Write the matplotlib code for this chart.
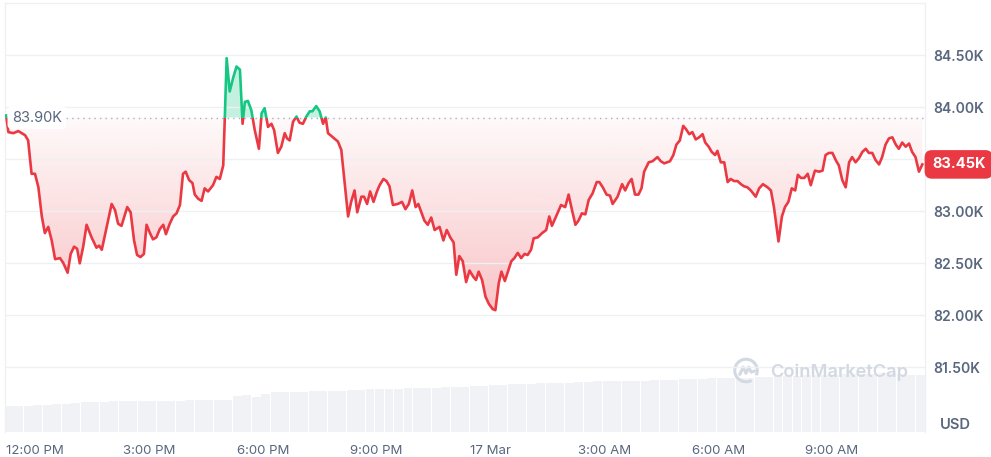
import numpy as np
import matplotlib
matplotlib.use("Agg")
import matplotlib.pyplot as plt
from matplotlib.path import Path
from matplotlib.patches import Rectangle, Arc
from matplotlib.transforms import blended_transform_factory

# hours relative to 12:00 PM (16 Mar) and BTC price in thousands USD
hours = [
    -0.76, -0.70, -0.57, -0.44, -0.35, -0.26, -0.18, -0.09, 0.00, 0.09,
    0.18, 0.26, 0.35, 0.44, 0.53, 0.66, 0.75, 0.86, 0.94, 1.03,
    1.11, 1.18, 1.27, 1.36, 1.49, 1.62, 1.69, 1.76, 1.89, 2.02,
    2.11, 2.19, 2.28, 2.43, 2.52, 2.61, 2.69, 2.78, 2.87, 2.94,
    3.03, 3.11, 3.20, 3.29, 3.38, 3.45, 3.55, 3.64, 3.73, 3.82,
    3.90, 3.97, 4.06, 4.15, 4.21, 4.30, 4.39, 4.47, 4.56, 4.69,
    4.78, 4.87, 4.96, 5.00, 5.05, 5.13, 5.22, 5.31, 5.40, 5.47,
    5.53, 5.61, 5.70, 5.79, 5.90, 5.97, 6.05, 6.14, 6.23, 6.30,
    6.40, 6.49, 6.58, 6.64, 6.71, 6.80, 6.89, 6.97, 7.06, 7.15,
    7.24, 7.31, 7.41, 7.50, 7.59, 7.66, 7.72, 7.85, 7.98, 8.07,
    8.16, 8.25, 8.33, 8.42, 8.49, 8.60, 8.67, 8.75, 8.83, 8.92,
    9.01, 9.08, 9.18, 9.26, 9.34, 9.43, 9.56, 9.67, 9.76, 9.85,
    9.94, 10.03, 10.10, 10.18, 10.26, 10.35, 10.44, 10.53, 10.66, 10.76,
    10.85, 10.94, 11.03, 11.10, 11.18, 11.27, 11.36, 11.45, 11.55, 11.62,
    11.69, 11.78, 11.87, 11.96, 12.06, 12.13, 12.22, 12.29, 12.38, 12.47,
    12.55, 12.63, 12.72, 12.81, 12.90, 12.98, 13.07, 13.14, 13.25, 13.36,
    13.47, 13.55, 13.62, 13.73, 13.86, 13.97, 14.06, 14.15, 14.24, 14.32,
    14.41, 14.50, 14.59, 14.69, 14.80, 14.87, 14.96, 15.06, 15.15, 15.22,
    15.35, 15.47, 15.55, 15.64, 15.72, 15.81, 15.90, 15.98, 16.05, 16.17,
    16.27, 16.40, 16.49, 16.58, 16.73, 16.82, 16.90, 16.99, 17.08, 17.15,
    17.24, 17.32, 17.41, 17.50, 17.59, 17.66, 17.75, 17.83, 17.92, 17.98,
    18.07, 18.16, 18.25, 18.33, 18.42, 18.51, 18.60, 18.68, 18.77, 18.86,
    18.99, 19.08, 19.18, 19.30, 19.39, 19.47, 19.59, 19.68, 19.76, 19.85,
    19.94, 20.03, 20.10, 20.18, 20.27, 20.36, 20.44, 20.55, 20.66, 20.75,
    20.83, 20.92, 21.01, 21.10, 21.18, 21.27, 21.36, 21.45, 21.53, 21.62,
    21.71, 21.80, 21.89, 21.97, 22.06, 22.15, 22.24, 22.32, 22.41, 22.50,
    22.59, 22.68, 22.76, 22.85, 22.94, 23.03, 23.11, 23.20, 23.29, 23.38,
]
price_k = [
    83.92, 83.76, 83.75, 83.77, 83.75, 83.73, 83.68, 83.36, 83.36, 83.23,
    82.95, 82.79, 82.85, 82.72, 82.54, 82.55, 82.50, 82.41, 82.59, 82.66,
    82.64, 82.50, 82.66, 82.87, 82.75, 82.65, 82.67, 82.63, 82.85, 83.07,
    83.01, 82.88, 82.86, 83.04, 82.99, 82.72, 82.58, 82.56, 82.59, 82.87,
    82.79, 82.73, 82.75, 82.83, 82.87, 82.78, 82.88, 82.95, 82.98, 83.06,
    83.36, 83.38, 83.30, 83.27, 83.16, 83.12, 83.10, 83.22, 83.19, 83.25,
    83.33, 83.31, 83.44, 83.88, 84.47, 84.15, 84.28, 84.39, 84.36, 83.84,
    84.05, 84.06, 83.97, 83.78, 83.60, 83.94, 83.99, 83.81, 83.84, 83.78,
    83.56, 83.62, 83.75, 83.70, 83.68, 83.86, 83.91, 83.85, 83.84, 83.91,
    83.96, 83.96, 84.01, 83.96, 83.84, 83.90, 83.75, 83.71, 83.67, 83.59,
    83.27, 82.95, 83.09, 83.20, 82.99, 83.14, 83.14, 83.07, 83.19, 83.09,
    83.19, 83.25, 83.31, 83.29, 83.24, 83.06, 83.07, 83.09, 83.02, 83.07,
    83.20, 83.04, 83.07, 82.99, 82.91, 82.87, 82.94, 82.82, 82.85, 82.72,
    82.82, 82.75, 82.70, 82.39, 82.57, 82.52, 82.32, 82.43, 82.37, 82.34,
    82.42, 82.34, 82.18, 82.11, 82.06, 82.05, 82.31, 82.42, 82.33, 82.43,
    82.52, 82.55, 82.60, 82.55, 82.59, 82.58, 82.63, 82.74, 82.75, 82.79,
    82.82, 82.95, 82.86, 82.95, 83.06, 83.04, 83.16, 83.01, 82.87, 82.91,
    82.98, 82.97, 83.11, 83.17, 83.28, 83.28, 83.23, 83.16, 83.15, 83.07,
    83.14, 83.26, 83.20, 83.27, 83.31, 83.16, 83.16, 83.22, 83.38, 83.47,
    83.48, 83.52, 83.48, 83.46, 83.48, 83.54, 83.64, 83.68, 83.82, 83.79,
    83.74, 83.76, 83.69, 83.71, 83.74, 83.66, 83.62, 83.57, 83.54, 83.58,
    83.47, 83.47, 83.28, 83.31, 83.29, 83.29, 83.26, 83.24, 83.23, 83.20,
    83.14, 83.22, 83.26, 83.23, 83.20, 83.04, 82.71, 82.95, 83.04, 83.09,
    83.22, 83.20, 83.35, 83.32, 83.32, 83.36, 83.25, 83.39, 83.38, 83.39,
    83.54, 83.56, 83.56, 83.49, 83.44, 83.30, 83.23, 83.47, 83.52, 83.47,
    83.51, 83.57, 83.60, 83.56, 83.56, 83.49, 83.45, 83.52, 83.64, 83.70,
    83.71, 83.64, 83.60, 83.66, 83.62, 83.65, 83.57, 83.52, 83.38, 83.45,
]

# 15-minute volume bars (arbitrary units)
volume = [
    13.0, 13.0, 13.25,
    13.5, 13.75, 14.0, 14.25, 14.5,
    15.0, 15.0, 15.25, 15.5,
    15.5, 15.5, 15.5, 15.75,
    15.75, 15.75, 15.75, 16.0,
    16.0, 16.0, 16.0, 16.25,
    18.0, 18.5, 17.5, 19.25,
    20.0, 20.0, 20.0, 20.25,
    20.5, 20.5, 20.5, 20.75,
    21.0, 21.25, 21.5, 21.65,
    21.75, 21.75, 22.0, 22.0,
    22.15, 22.25, 22.5, 22.5,
    22.75, 23.0, 23.25, 23.5,
    23.75, 24.15, 24.25, 24.25,
    24.5, 24.5, 24.65, 24.75,
    25.25, 25.35, 25.5, 25.5,
    25.65, 25.75, 25.75, 25.85,
    26.0, 26.25, 26.35, 26.65,
    26.75, 26.85, 27.0, 27.15,
    27.15, 27.25, 27.25, 27.5,
    27.75, 28.0, 28.0, 28.25,
    28.5, 28.5, 28.75, 28.75,
    29.0, 29.0, 29.25, 29.25,
    29.5, 29.65, 29.0, 28.85, 28.85,
]

open_price = 83.90
last_price = 83.45
y_ticks = [81.5, 82.0, 82.5, 83.0, 83.5, 84.0, 84.5]
x_ticks = [0, 3, 6, 9, 12, 15, 18, 21]
x_labels = ["12:00 PM", "3:00 PM", "6:00 PM", "9:00 PM", "17 Mar",
            "3:00 AM", "6:00 AM", "9:00 AM"]

RED = "#ea3943"
GREEN = "#16c784"
TEXT = "#58667e"
GRID = "#eef0f3"

plt.rcParams["font.family"] = ["Inter", "DejaVu Sans"]


def draw_chart():
    t = np.array(hours)
    p = np.array(price_k)
    x0, x1 = -0.79, 23.45
    y0, y1 = 80.88, 85.0

    fig = plt.figure(figsize=(9.91, 4.57), dpi=100)
    rect = [5 / 991, 25 / 457, 920 / 991, 429 / 457]

    # volume bars live on their own axes behind the price axes
    vax = fig.add_axes(rect)
    bar_t = x0 + 0.25 * np.arange(len(volume))
    vax.bar(bar_t, volume, width=0.25 * 0.94, align="edge", color="#f0f2f5",
            linewidth=0)
    vax.set_xlim(x0, x1)
    vax.set_ylim(0, 216)
    vax.axis("off")

    ax = fig.add_axes(rect)
    ax.set_facecolor("none")
    ax.set_zorder(vax.get_zorder() + 1)

    # red gradient fill below the open price
    below = ax.fill_between(t, p, open_price, where=p <= open_price,
                            interpolate=True, facecolor="none", edgecolor="none")
    grad = np.zeros((100, 1, 4))
    grad[:, 0, :3] = matplotlib.colors.to_rgb(RED)
    grad[:, 0, 3] = np.linspace(0.30, 0.03, 100)
    im = ax.imshow(grad, extent=[x0, x1, 82.0, open_price], aspect="auto",
                   origin="lower", zorder=1, interpolation="bilinear")
    im.set_clip_path(Path.make_compound_path(*below.get_paths()), ax.transData)

    # green fill above the open price
    ax.fill_between(t, p, open_price, where=p >= open_price, interpolate=True,
                    facecolor=GREEN, alpha=0.25, edgecolor="none", zorder=1)

    # the line switches colour at the open price
    clip_lo = Rectangle((x0, y0), x1 - x0, open_price - y0, transform=ax.transData)
    clip_hi = Rectangle((x0, open_price), x1 - x0, y1 - open_price,
                        transform=ax.transData)
    red_line, = ax.plot(t, p, color=RED, lw=1.9, zorder=3,
                        solid_joinstyle="round")
    red_line.set_clip_path(clip_lo)
    green_line, = ax.plot(t, p, color=GREEN, lw=1.9, zorder=3,
                          solid_joinstyle="round")
    green_line.set_clip_path(clip_hi)

    ax.axhline(open_price, color="#a6b0c3", lw=1, ls=(0, (1, 3)), zorder=2)

    ax.set_xlim(x0, x1)
    ax.set_ylim(y0, y1)
    ax.set_yticks(y_ticks)
    # the 83.50K label sits under the current price tag
    ax.set_yticklabels(["" if v == 83.5 else f"{v:.2f}K" for v in y_ticks])
    ax.yaxis.tick_right()
    ax.set_xticks(x_ticks)
    ax.set_xticklabels(x_labels)
    ax.tick_params(axis="y", length=0, pad=6, labelsize=10, labelcolor=TEXT)
    ax.tick_params(axis="x", length=0, pad=9, labelsize=9.5, labelcolor=TEXT)
    for lab in ax.get_yticklabels():
        lab.set_fontweight("semibold")
    ax.grid(axis="y", color=GRID, lw=1)
    ax.grid(axis="x", visible=False)
    for side in ["left", "right", "top"]:
        ax.spines[side].set_color(GRID)
        ax.spines[side].set_linewidth(1)
    ax.spines["bottom"].set_visible(False)

    # open price label and current price tag
    trans = blended_transform_factory(ax.transAxes, ax.transData)
    ax.text(0.0075, open_price, "83.90K", transform=trans, ha="left",
            va="center", fontsize=10.5, color=TEXT, zorder=5,
            bbox=dict(boxstyle="round,pad=0.3", fc="white", ec="none"))
    ax.text(1.0075, last_price, f"{last_price:.2f}K", transform=trans,
            ha="left", va="center", fontsize=10.5, color="white",
            fontweight="bold", zorder=5, clip_on=False,
            bbox=dict(boxstyle="round,pad=0.5", fc=RED, ec="none"))

    fig.text(955 / 991, 1 - 425 / 457, "USD", ha="center", va="center",
             fontsize=10.5, color=TEXT, fontweight="semibold")

    # watermark
    fig.text(770 / 991, 1 - 372 / 457, "CoinMarketCap", ha="left",
             va="center", fontsize=13.2, color="#d3d9e3", fontweight="semibold")
    lax = fig.add_axes([732 / 991, (457 - 384) / 457, 28 / 991, 27 / 457])
    lax.set_xlim(-1.2, 1.2)
    lax.set_ylim(-1.2, 1.2)
    lax.set_aspect("equal")
    lax.axis("off")
    lax.add_patch(Arc((0, 0), 2.0, 2.0, theta1=-25, theta2=300,
                      color="#d3d9e3", lw=2.2))
    lax.plot([-0.55, -0.25, 0.0, 0.25, 0.45, 0.75],
             [-0.35, 0.3, -0.25, 0.3, -0.15, -0.05],
             color="#d3d9e3", lw=2.2, solid_capstyle="round")

    fig.savefig("out.png", dpi=100)


if __name__ == "__main__":
    draw_chart()
